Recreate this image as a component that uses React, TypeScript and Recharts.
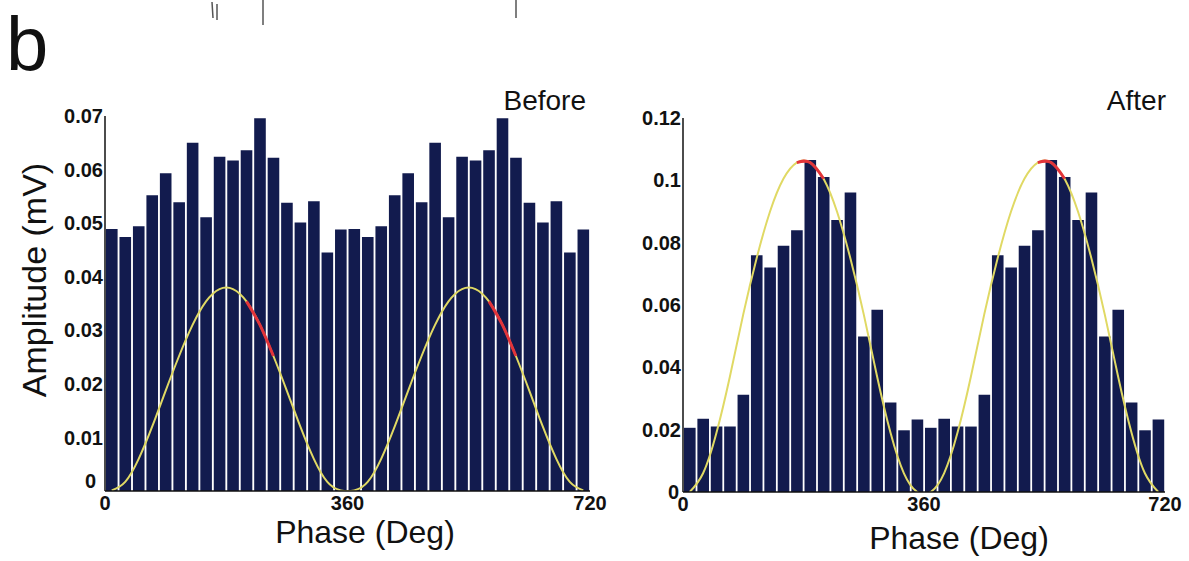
import { Bar, ComposedChart, Line, XAxis, YAxis } from "recharts";

// 20° phase bins, the histogram is plotted over two cycles (0–720°)
const PHASES = [
  10, 30, 50, 70, 90, 110, 130, 150, 170, 190, 210, 230, 250, 270, 290, 310, 330, 350,
  370, 390, 410, 430, 450, 470, 490, 510, 530, 550, 570, 590, 610, 630, 650, 670, 690, 710,
];

// one cycle of bin amplitudes (mV), repeated for the second cycle
const BEFORE_CYCLE = [
  0.0489, 0.0474, 0.0494, 0.0552, 0.0593, 0.0539, 0.065, 0.0511, 0.0624, 0.0617, 0.0636,
  0.0696, 0.0622, 0.0538, 0.0501, 0.0541, 0.0445, 0.0488,
];
const AFTER_CYCLE = [
  0.0206, 0.0235, 0.021, 0.021, 0.0312, 0.076, 0.072, 0.079, 0.084, 0.1065, 0.1011, 0.0873,
  0.0961, 0.0499, 0.0585, 0.0287, 0.0198, 0.0233,
];

// fitted curve read at the bin centres
const BEFORE_FIT_CYCLE = [
  0.0001, 0.0017, 0.006, 0.012, 0.0187, 0.0252, 0.031, 0.0354, 0.0377, 0.0377, 0.0354, 0.031,
  0.0252, 0.0187, 0.012, 0.006, 0.0017, 0.0001,
];
const AFTER_FIT_CYCLE = [
  0, 0.006, 0.019, 0.037, 0.057, 0.075, 0.09, 0.1005, 0.1057, 0.1057, 0.1005, 0.09, 0.075,
  0.057, 0.037, 0.019, 0.006, 0,
];

// phases where the fit is drawn in red
const BEFORE_RED = [210, 230, 250, 570, 590, 610];
const AFTER_RED = [170, 190, 210, 530, 550, 570];

const BEFORE_TICKS = [0, 0.01, 0.02, 0.03, 0.04, 0.05, 0.06, 0.07];
const AFTER_TICKS = [0, 0.02, 0.04, 0.06, 0.08, 0.1, 0.12];
const X_TICKS = [0, 360, 720];

const FONT = '"Liberation Sans", Arial, Helvetica, sans-serif';
const COLORS = {
  bar: "#121b4e",
  fit: "#e0d964",
  red: "#e2343a",
  ink: "#111111",
};

function buildRows(cycle: number[], fitCycle: number[], red: number[]) {
  const amps = [...cycle, ...cycle];
  const fits = [...fitCycle, ...fitCycle];
  return PHASES.map((phase, i) => ({
    phase,
    amp: amps[i],
    fit: fits[i],
    red: red.includes(phase) ? fits[i] : null,
  }));
}

function YTick(props: any) {
  const { x, y, payload, zeroDx, zeroDy } = props;
  const isZero = payload.value === 0;
  return (
    <text
      x={x + (isZero ? zeroDx : 0)}
      y={y + (isZero ? zeroDy : 0)}
      dy="0.355em"
      textAnchor="end"
      fontSize={20}
      fontWeight="bold"
      fill={COLORS.ink}
      fontFamily={FONT}
    >
      {String(payload.value)}
    </text>
  );
}

type PanelProps = {
  rows: ReturnType<typeof buildRows>;
  yMax: number;
  yTicks: number[];
  left: number;
  width: number;
  margin: { top: number; right: number; bottom: number; left: number };
  zeroDx: number;
  zeroDy: number;
  topDash?: string;
};

function Panel({ rows, yMax, yTicks, left, width, margin, zeroDx, zeroDy, topDash }: PanelProps) {
  const axisTick = { fontSize: 20, fontWeight: "bold", fill: COLORS.ink, fontFamily: FONT };
  return (
    <div style={{ position: "absolute", left, top: 0 }}>
      <ComposedChart width={width} height={561} data={rows} margin={margin}>
        <XAxis
          dataKey="phase"
          type="number"
          domain={[0, 720]}
          ticks={X_TICKS}
          allowDataOverflow
          height={30}
          tickLine={false}
          tickSize={0}
          tickMargin={5}
          axisLine={{ stroke: COLORS.ink, strokeWidth: 1.5 }}
          tick={axisTick}
          interval={0}
        />
        <XAxis
          xAxisId="top"
          orientation="top"
          type="number"
          domain={[0, 720]}
          height={0}
          tick={false}
          tickLine={false}
          axisLine={{ stroke: COLORS.ink, strokeWidth: 1.5, strokeDasharray: topDash }}
        />
        <YAxis
          type="number"
          domain={[0, yMax]}
          ticks={yTicks}
          allowDataOverflow
          width={70}
          tickLine={false}
          tickSize={0}
          tickMargin={2}
          interval={0}
          axisLine={{ stroke: COLORS.ink, strokeWidth: 1.5 }}
          tick={(p: any) => <YTick {...p} zeroDx={zeroDx} zeroDy={zeroDy} />}
        />
        <YAxis
          yAxisId="r"
          orientation="right"
          type="number"
          domain={[0, yMax]}
          width={0}
          tick={false}
          tickLine={false}
          axisLine={{ stroke: "#333", strokeWidth: 1.5 }}
        />
        <Bar dataKey="amp" fill={COLORS.bar} barSize={11.6} isAnimationActive={false} />
        <Line
          dataKey="fit"
          type="natural"
          stroke={COLORS.fit}
          strokeWidth={2}
          dot={false}
          activeDot={false}
          isAnimationActive={false}
        />
        <Line
          dataKey="red"
          type="natural"
          stroke={COLORS.red}
          strokeWidth={3}
          dot={false}
          activeDot={false}
          connectNulls={false}
          isAnimationActive={false}
        />
      </ComposedChart>
    </div>
  );
}

export default function App() {
  const before = buildRows(BEFORE_CYCLE, BEFORE_FIT_CYCLE, BEFORE_RED);
  const after = buildRows(AFTER_CYCLE, AFTER_FIT_CYCLE, AFTER_RED);
  const text = { fontFamily: FONT, fill: COLORS.ink };

  return (
    <div
      style={{
        position: "absolute",
        left: 0,
        top: 0,
        width: 1189,
        height: 561,
        background: "#fff",
        overflow: "hidden",
      }}
    >
      <Panel
        rows={before}
        yMax={0.07}
        yTicks={BEFORE_TICKS}
        left={0}
        width={625}
        margin={{ top: 116, right: 35, bottom: 40, left: 35 }}
        zeroDx={-7}
        zeroDy={-10}
      />
      <Panel
        rows={after}
        yMax={0.12}
        yTicks={AFTER_TICKS}
        left={600}
        width={589}
        margin={{ top: 118, right: 24, bottom: 39, left: 13 }}
        zeroDx={-2}
        zeroDy={0}
        topDash="90 6"
      />
      <svg
        width={1189}
        height={561}
        style={{ position: "absolute", left: 0, top: 0, pointerEvents: "none" }}
      >
        <g stroke="#555" strokeWidth={1.5}>
          <line x1={212} y1={2} x2={213} y2={18} />
          <line x1={217} y1={4} x2={217} y2={20} />
          <line x1={263} y1={0} x2={263} y2={25} />
          <line x1={516} y1={0} x2={516} y2={18} />
        </g>
        <text x={6} y={70} fontSize={76} {...text}>
          b
        </text>
        <text x={586} y={110} fontSize={28} textAnchor="end" {...text}>
          Before
        </text>
        <text x={1166} y={110} fontSize={28} textAnchor="end" {...text}>
          After
        </text>
        <text x={365} y={543} fontSize={32} textAnchor="middle" {...text}>
          Phase (Deg)
        </text>
        <text x={959} y={549} fontSize={32} textAnchor="middle" {...text}>
          Phase (Deg)
        </text>
        <text
          transform="translate(46 280) rotate(-90)"
          fontSize={34}
          textAnchor="middle"
          {...text}
        >
          Amplitude (mV)
        </text>
      </svg>
    </div>
  );
}
